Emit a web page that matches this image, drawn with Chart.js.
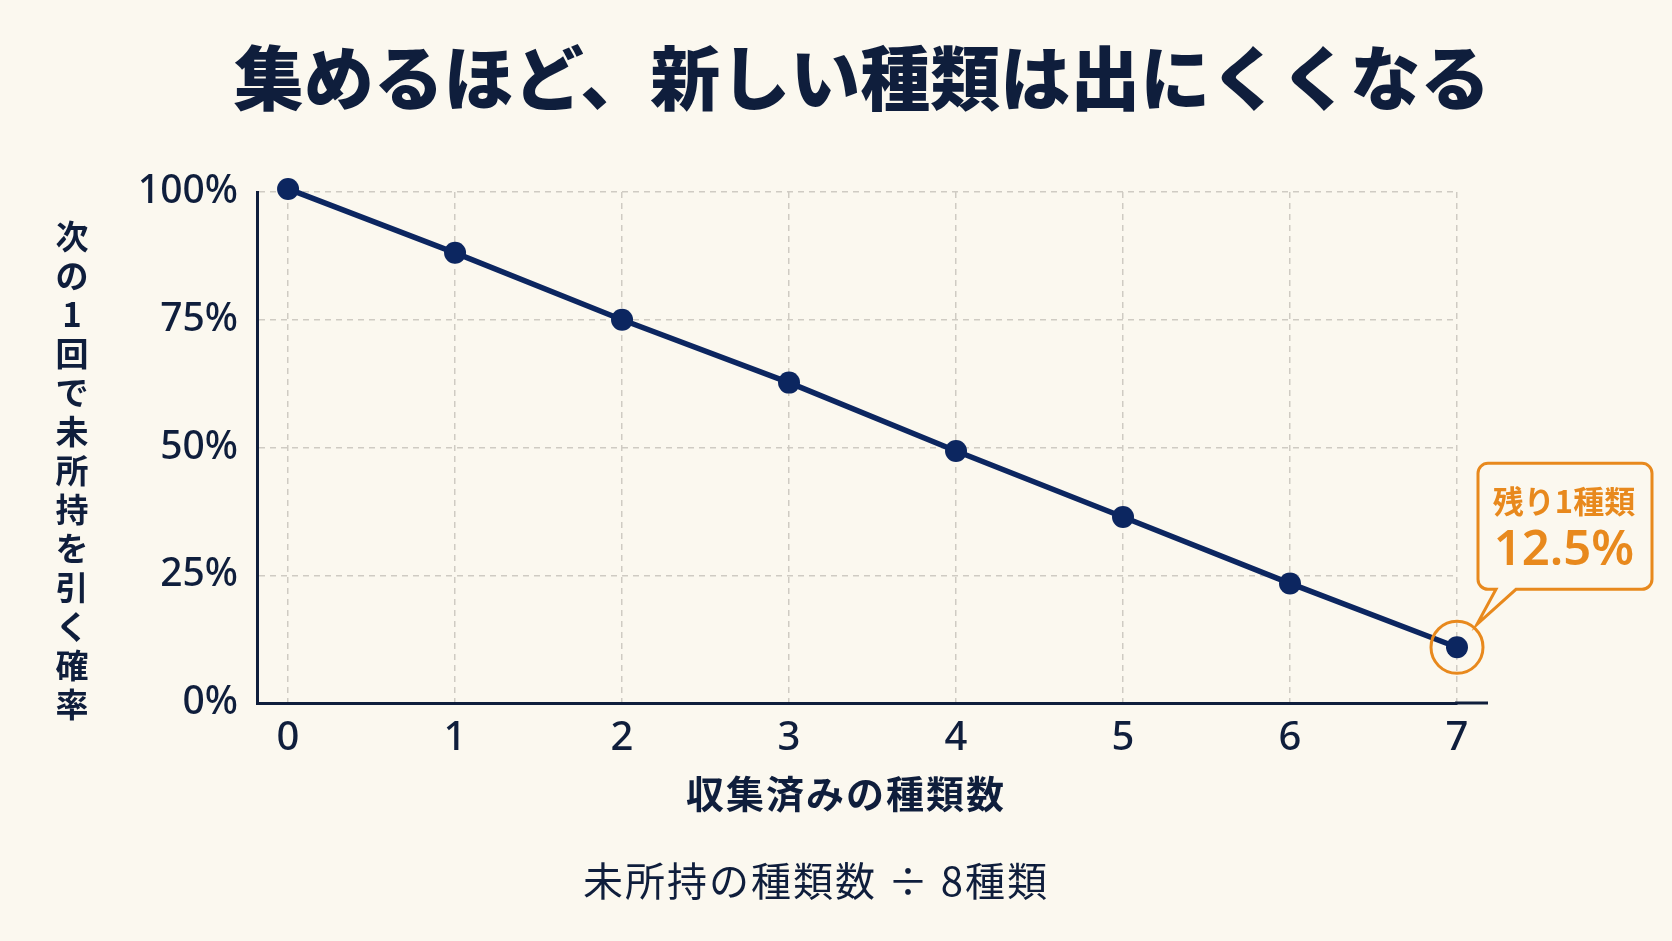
<!DOCTYPE html>
<html lang="ja">
<head>
<meta charset="utf-8">
<title>集めるほど、新しい種類は出にくくなる</title>
<script src="https://cdn.jsdelivr.net/npm/chart.js@4.4.1/dist/chart.umd.min.js"></script>
<style>
    html, body { margin: 0; padding: 0; background: #fbf8ef; }
    #wrap { width: 1672px; height: 941px; }
</style>
</head>
<body>
<div id="wrap"><canvas id="mycanvas" width="1672" height="941"></canvas></div>
<script>
// data
var collected = [0, 1, 2, 3, 4, 5, 6, 7];
var probability = [100.6, 88.1, 75.0, 62.7, 49.3, 36.4, 23.4, 10.9];
var yTickValues = [0, 25, 50, 75, 100];

var titleText = '集めるほど、新しい種類は出にくくなる';
var xTitle = '収集済みの種類数';
var yTitle = '次の1回で未所持を引く確率';
var formulaText = '未所持の種類数 ÷ 8種類';
var calloutTitle = '残り1種類';
var calloutValue = '12.5%';

var ink = '#0f1e3c';
var navy = '#0c2660';
var orange = '#e8891d';
var bg = '#fbf8ef';
var gridColor = '#cfcbc3';
var jp = '"Noto Sans CJK JP", "Noto Sans", sans-serif';

var annotate = {
    id: 'annotate',
    afterDraw: function(chart) {
        var ctx = chart.ctx;
        var area = chart.chartArea;
        ctx.save();
        ctx.fillStyle = ink;
        ctx.textAlign = 'center';
        ctx.textBaseline = 'middle';

        ctx.font = '900 70px ' + jp;
        ctx.fillText(titleText, 862, 78);

        // vertical y title, one character per row
        ctx.font = '700 33px ' + jp;
        Array.from(yTitle).forEach(function(c, i) {
            ctx.fillText(c, 72, 236 + i * 39);
        });

        ctx.letterSpacing = '2px';
        ctx.font = '700 38px ' + jp;
        ctx.fillText(xTitle, 846, 794);

        ctx.font = '400 40px ' + jp;
        ctx.fillText(formulaText, 816, 881);
        ctx.letterSpacing = '0px';

        // x axis line runs on past the last category
        ctx.strokeStyle = ink;
        ctx.lineWidth = 3;
        ctx.beginPath();
        ctx.moveTo(area.right - 2, area.bottom);
        ctx.lineTo(area.right + 31, area.bottom);
        ctx.stroke();

        // callout on the last point
        var pt = chart.getDatasetMeta(0).data[collected.length - 1];
        var px = pt.x, py = pt.y;
        ctx.strokeStyle = orange;
        ctx.lineWidth = 3;
        ctx.beginPath();
        ctx.arc(px, py, 26, 0, Math.PI * 2);
        ctx.stroke();

        var l = px + 21, r = px + 195, t = py - 184, b = py - 58, rad = 10;
        ctx.fillStyle = bg;
        ctx.beginPath();
        ctx.moveTo(l + rad, t);
        ctx.lineTo(r - rad, t);
        ctx.arcTo(r, t, r, t + rad, rad);
        ctx.lineTo(r, b - rad);
        ctx.arcTo(r, b, r - rad, b, rad);
        ctx.lineTo(px + 59, b);
        ctx.lineTo(px + 20, py - 23);
        ctx.lineTo(px + 39, b);
        ctx.lineTo(l + rad, b);
        ctx.arcTo(l, b, l, b - rad, rad);
        ctx.lineTo(l, t + rad);
        ctx.arcTo(l, t, l + rad, t, rad);
        ctx.closePath();
        ctx.fill();
        ctx.stroke();

        ctx.fillStyle = orange;
        ctx.font = '700 31px ' + jp;
        ctx.fillText(calloutTitle, px + 107, py - 146);
        ctx.font = '600 49px "Noto Sans", sans-serif';
        ctx.fillText(calloutValue, px + 107, py - 96);
        ctx.restore();
    }
};

var ctx = document.getElementById('mycanvas');

var lineChart = new Chart(ctx, {
    type: 'line',
    data: {
        datasets: [{
            data: collected.map(function(c, i) { return { x: c, y: probability[i] }; }),
            borderColor: navy,
            backgroundColor: navy,
            borderWidth: 5.5,
            pointRadius: 11,
            pointBackgroundColor: navy,
            pointBorderWidth: 0,
            tension: 0,
            clip: false
        }]
    },
    options: {
        responsive: false,
        maintainAspectRatio: false,
        animation: false,
        layout: { padding: { top: 192, right: 215, left: 0, bottom: 0 } },
        plugins: {
            legend: { display: false },
            tooltip: { enabled: false }
        },
        scales: {
            x: {
                type: 'linear',
                min: -0.186,
                max: 7,
                afterFit: function(scale) { scale.height = 238; },
                afterBuildTicks: function(scale) {
                    scale.ticks = collected.map(function(v) { return { value: v }; });
                },
                grid: { color: gridColor, lineWidth: 1.5, drawTicks: false },
                border: { color: ink, width: 3, dash: [6, 5] },
                ticks: {
                    padding: 12,
                    color: ink,
                    font: { family: '"Noto Sans", sans-serif', size: 40, weight: '500' },
                    maxRotation: 0
                }
            },
            y: {
                min: 0,
                max: 100,
                afterFit: function(scale) { scale.width = 257; },
                afterBuildTicks: function(scale) {
                    scale.ticks = yTickValues.map(function(v) { return { value: v }; });
                },
                grid: { color: gridColor, lineWidth: 1.5, drawTicks: false },
                border: { color: ink, width: 3, dash: [6, 5] },
                ticks: {
                    padding: 19,
                    color: ink,
                    font: { family: '"Noto Sans", sans-serif', size: 39, weight: '500' },
                    callback: function(v) { return v + '%'; }
                }
            }
        }
    },
    plugins: [annotate]
});
</script>
</body>
</html>
